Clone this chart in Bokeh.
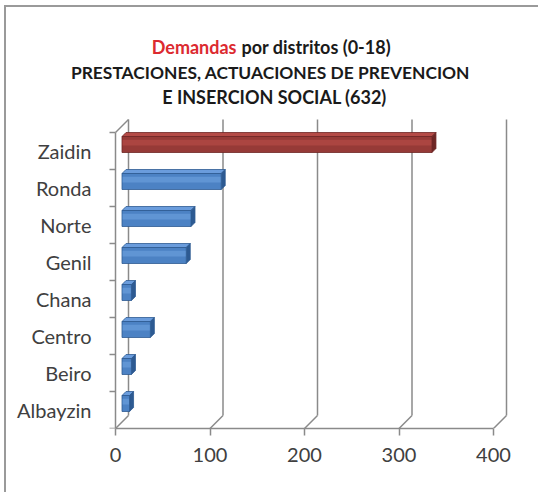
from bokeh.plotting import figure
from bokeh.models import Range1d, FixedTicker
from bokeh.core.properties import value
from bokeh.embed import file_html
from bokeh.resources import INLINE

# ---- data ----
categories = ["Albayzin", "Beiro", "Centro", "Chana", "Genil", "Norte", "Ronda", "Zaidin"]
values = [8, 10, 30, 10, 68, 73, 105, 328]
highlight = "Zaidin"
x_ticks = [0, 100, 200, 300, 400]
title_red = "Demandas"
title_rest = "por distritos (0-18)"
title_line2 = "PRESTACIONES, ACTUACIONES DE PREVENCION"
title_line3 = "E INSERCION SOCIAL (632)"

# ---- layout (page pixels) ----
OX, OY = 6, 7               # where the figure canvas starts on the page
W, H = 534, 487
FR_L, FR_R, FR_T, FR_B = OX, OX + W, OY, 428   # frame edges on the page
AX0 = 115                   # page x of value 0 on the front axis
LEFT, RIGHT, TOP, BOTTOM = FR_L - OX, OX + W - FR_R, FR_T - OY, OY + H - FR_B
PX_X = 94.5 / 100.0          # px per value unit
PX_Y = 37.0                  # px per category
X_START = (FR_L - AX0) / PX_X
X_END = (FR_R - AX0) / PX_X
Y_START = -0.5
Y_END = Y_START + (FR_B - FR_T) / PX_Y
DEPTH = 13.0
dxu, dyu = DEPTH / PX_X, DEPTH / PX_Y
BAR_DEPTH = 4.0
bdx, bdy = BAR_DEPTH / PX_X, BAR_DEPTH / PX_Y
BAR_H = 16.0 / PX_Y

FONT = "Lato"
GRID = "#8a8a8a"

def dx(px):
    return (px - AX0) / PX_X

def dy(py):
    return Y_START + (FR_B - py) / PX_Y

p = figure(width=W, height=H, output_backend="svg", toolbar_location=None,
           x_range=Range1d(X_START, X_END), y_range=Range1d(Y_START, Y_END),
           min_border=0, min_border_left=LEFT, min_border_right=RIGHT,
           min_border_top=TOP, min_border_bottom=BOTTOM,
           styles={"margin-left": "4px", "margin-top": "5px",
                   "border-left": "2px solid #9a9a9a", "border-top": "2px solid #9a9a9a"})
p.outline_line_color = None
p.xgrid.visible = False
p.ygrid.visible = False
p.background_fill_color = "white"
p.border_fill_color = "white"

# back wall gridlines + 3D connectors
n = len(categories)
y_top = n - 0.5
p.segment(x0=[t + dxu for t in x_ticks], y0=[Y_START + dyu] * len(x_ticks),
          x1=[t + dxu for t in x_ticks], y1=[y_top + dyu] * len(x_ticks),
          line_color=GRID, line_width=1.5)
p.segment(x0=x_ticks, y0=[Y_START] * len(x_ticks),
          x1=[t + dxu for t in x_ticks], y1=[Y_START + dyu] * len(x_ticks),
          line_color=GRID, line_width=1.5)
p.segment(x0=[0], y0=[y_top], x1=[dxu], y1=[y_top + dyu], line_color=GRID, line_width=1.5)

# axes
xa = p.xaxis[0]
xa.ticker = FixedTicker(ticks=x_ticks, minor_ticks=[])
xa.bounds = (0, 400)
xa.axis_line_color = GRID
xa.axis_line_width = 1.5
xa.major_tick_line_color = GRID
xa.major_tick_line_width = 1.5
xa.major_tick_out = 7
xa.major_tick_in = 0
xa.major_label_standoff = 12
xa.major_label_text_font = FONT
xa.major_label_text_font_size = "20px"
xa.major_label_text_color = "#404040"

ya = p.yaxis[0]
centers = list(range(n))
ya.fixed_location = 0
ya.ticker = FixedTicker(ticks=centers, minor_ticks=[i - 0.5 for i in range(n + 1)])
ya.bounds = (-0.5, n - 0.5)
ya.major_label_overrides = {i: c for i, c in enumerate(categories)}
ya.axis_line_color = GRID
ya.axis_line_width = 1.5
ya.major_tick_out = 0
ya.major_tick_in = 0
ya.minor_tick_out = 6
ya.minor_tick_in = 0
ya.minor_tick_line_color = GRID
ya.minor_tick_line_width = 1.5
ya.major_label_standoff = 18
ya.major_label_text_font = FONT
ya.major_label_text_font_size = "20px"
ya.major_label_text_color = "#404040"

# bars (3D look)
for cat, v, i in zip(categories, values, centers):
    red = cat == highlight
    base = "#963a37" if red else "#4c82c4"
    light = "#b44a46" if red else "#6a9cdc"
    dark = "#6e2624" if red else "#2d5a92"
    yc = i + dyu / 2
    x0 = dxu / 2
    x1 = x0 + v
    yb, yt = yc - BAR_H / 2, yc + BAR_H / 2
    p.patch(x=[x0, x1, x1 + bdx, x0 + bdx], y=[yt, yt, yt + bdy, yt + bdy],
            fill_color=light, line_color=dark, line_width=0.8)
    p.patch(x=[x1, x1 + bdx, x1 + bdx, x1], y=[yb, yb + bdy, yt + bdy, yt],
            fill_color=dark, line_color=dark, line_width=0.8)
    p.hbar(y=[yc], left=[x0], right=[x1], height=BAR_H,
           fill_color=base, line_color=dark, line_width=0.8)
    p.hbar(y=[yc + BAR_H * 0.12], left=[x0 + 0.6], right=[x1 - 0.6], height=BAR_H * 0.35,
           fill_color=light, line_color=None, fill_alpha=0.7)

# title (text glyphs inside the frame)
def lab(text, x, y, size, color="#1a1a1a", align="center"):
    p.text(x=[dx(x)], y=[dy(y)], text=[text], text_font=value(FONT),
           text_font_size=size, text_font_style="bold", text_color=color,
           text_align=align, text_baseline="alphabetic")

lab(title_red, 236, 46, "18px", color="#dc2a30", align="right")
lab(title_rest, 241, 46, "18px", align="left")
lab(title_line2, 270, 72, "17.4px")
lab(title_line3, 274, 96, "18px")

open("out.html", "w").write(file_html(p, INLINE))
